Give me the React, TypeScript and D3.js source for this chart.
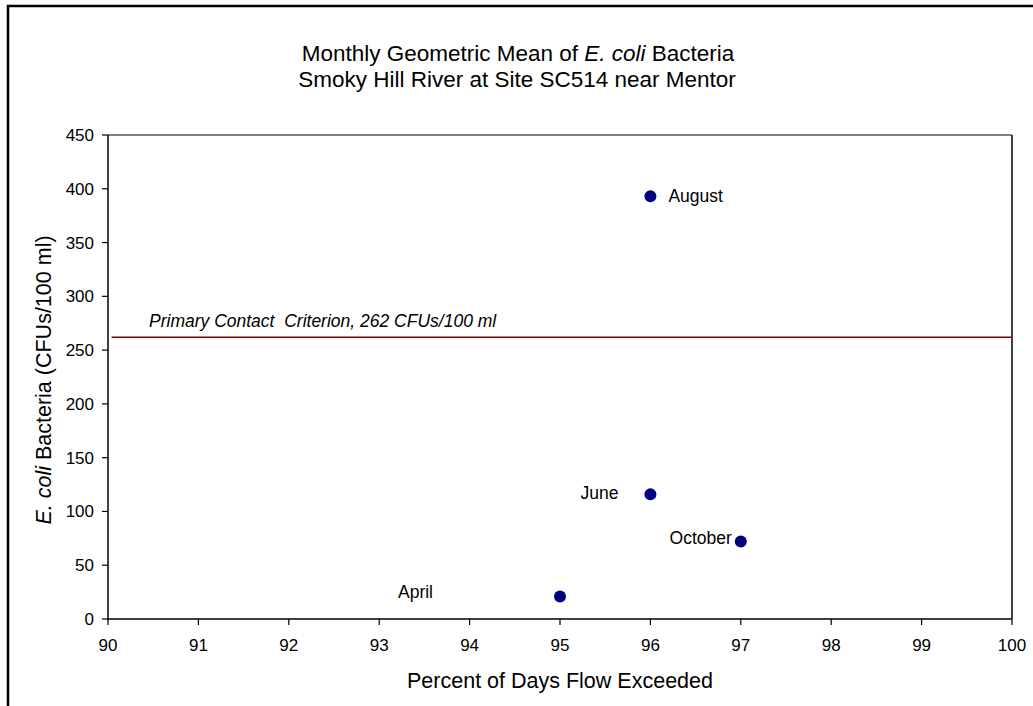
import React from "react";
import * as d3 from "d3";

const months = ["April", "June", "August", "October"];
const flowExceeded = [95, 96, 96, 97];
const geoMean = [21, 116, 393, 72];
const xTicks = [90, 91, 92, 93, 94, 95, 96, 97, 98, 99, 100];
const yTicks = [0, 50, 100, 150, 200, 250, 300, 350, 400, 450];
const criterionValue = 262;

// label placement (layout only)
const labelOffset: Record<string, { dx: number; dy: number; anchor: string }> = {
  April: { dx: -127, dy: 2, anchor: "end" },
  June: { dx: -32, dy: 5, anchor: "end" },
  August: { dx: 18, dy: 6, anchor: "start" },
  October: { dx: -9, dy: 2, anchor: "end" },
};

const FONT = "'Liberation Sans', Arial, sans-serif";

export default function App() {
  const left = 108, right = 1012, top = 135, bottom = 619;
  const x = d3.scaleLinear().domain([90, 100]).range([left, right]);
  const y = d3.scaleLinear().domain([0, 450]).range([bottom, top]);
  const pts = months.map((m, i) => ({ m, fx: flowExceeded[i], v: geoMean[i] }));

  return (
    <svg
      width={1033}
      height={706}
      style={{ position: "absolute", left: 0, top: 0, display: "block", background: "#fff" }}
      fontFamily={FONT}
    >
      <rect x={0} y={0} width={1033} height={706} fill="#fff" />
      {/* outer chart border */}
      <rect x={8} y={6} width={1200} height={900} fill="none" stroke="#000" strokeWidth={2.5} />

      {/* title */}
      <text x={518} y={61} textAnchor="middle" fontSize={22.5} fill="#000">
        Monthly Geometric Mean of <tspan fontStyle="italic">E. coli</tspan> Bacteria
      </text>
      <text x={517} y={87} textAnchor="middle" fontSize={22.5} fill="#000">
        Smoky Hill River at Site SC514 near Mentor
      </text>

      {/* plot frame */}
      <line x1={left} x2={right} y1={top} y2={top} stroke="#808080" strokeWidth={2} />
      <line x1={right} x2={right} y1={top} y2={bottom} stroke="#404040" strokeWidth={2} />
      <line x1={left} x2={left} y1={top} y2={bottom + 1} stroke="#000" strokeWidth={1.5} />
      <line x1={left - 1} x2={right} y1={bottom} y2={bottom} stroke="#000" strokeWidth={1.5} />

      {/* y ticks */}
      {yTicks.map((t) => (
        <g key={"y" + t}>
          <line x1={left - 6} x2={left} y1={y(t)} y2={y(t)} stroke="#000" strokeWidth={1.2} />
          <text x={94} y={y(t) + 6} textAnchor="end" fontSize={17} fill="#000">
            {t}
          </text>
        </g>
      ))}
      {/* x ticks */}
      {xTicks.map((t) => (
        <g key={"x" + t}>
          <line x1={x(t)} x2={x(t)} y1={bottom} y2={bottom + 6} stroke="#000" strokeWidth={1.2} />
          <text x={x(t)} y={651} textAnchor="middle" fontSize={17} fill="#000">
            {t}
          </text>
        </g>
      ))}

      {/* criterion line */}
      <line
        x1={x(90.04)}
        x2={x(100) - 1}
        y1={y(criterionValue)}
        y2={y(criterionValue)}
        stroke="#800000"
        strokeWidth={1.5}
      />
      <text x={149} y={y(criterionValue) - 10} fontSize={17.5} fontStyle="italic" fill="#000" xmlSpace="preserve">
        {"Primary Contact  Criterion, 262 CFUs/100 ml"}
      </text>

      {/* points */}
      {pts.map((p) => (
        <circle key={p.m} cx={x(p.fx)} cy={y(p.v)} r={6} fill="#000080" />
      ))}
      {pts.map((p) => {
        const o = labelOffset[p.m];
        return (
          <text
            key={"l" + p.m}
            x={x(p.fx) + o.dx}
            y={y(p.v) + o.dy}
            textAnchor={o.anchor}
            fontSize={17.5}
            fill="#000"
          >
            {p.m}
          </text>
        );
      })}

      {/* axis titles */}
      <text x={560} y={688} textAnchor="middle" fontSize={21.5} fill="#000">
        Percent of Days Flow Exceeded
      </text>
      <text
        transform={`translate(51, 380) rotate(-90)`}
        textAnchor="middle"
        fontSize={21.5}
        fill="#000"
      >
        <tspan fontStyle="italic">E. coli</tspan> Bacteria (CFUs/100 ml)
      </text>
    </svg>
  );
}
